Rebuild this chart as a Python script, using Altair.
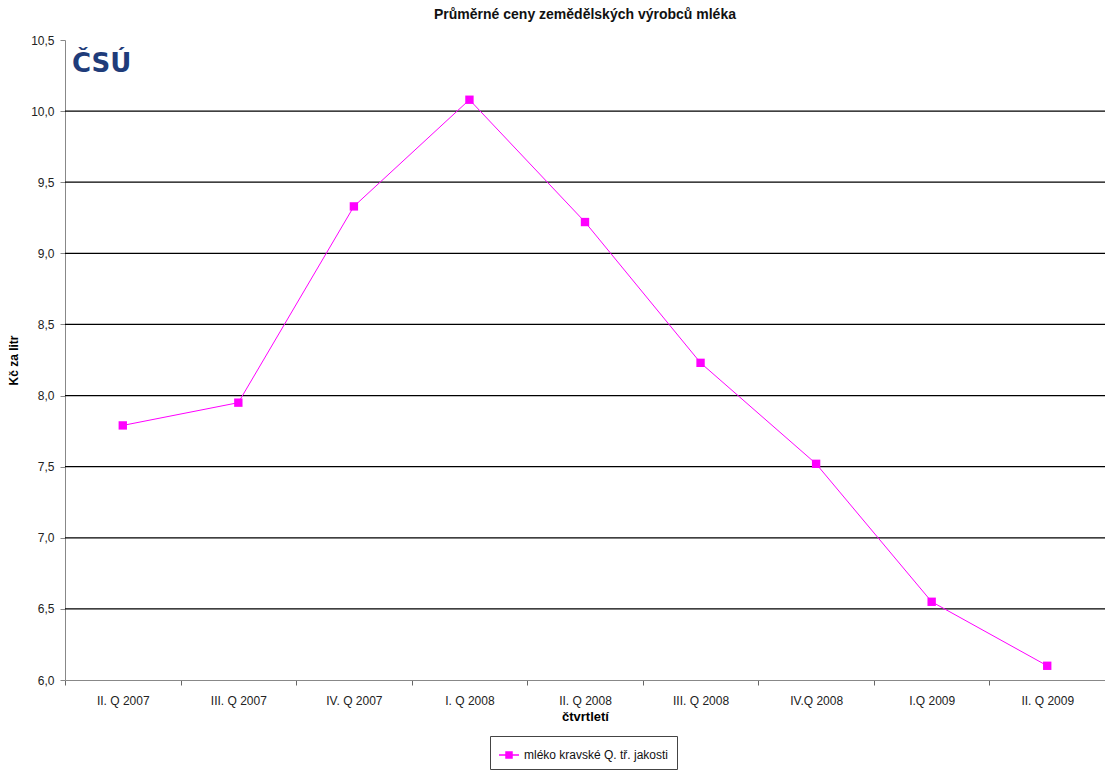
import altair as alt
import pandas as pd

quarters = ["II. Q 2007", "III. Q 2007", "IV. Q 2007", "I. Q 2008", "II. Q 2008",
            "III. Q 2008", "IV.Q 2008", "I.Q 2009", "II. Q 2009"]
prices = [7.79, 7.95, 9.33, 10.08, 9.22, 8.23, 7.52, 6.55, 6.10]
series_name = "mléko kravské Q. tř. jakosti"
y_ticks = [6.0, 6.5, 7.0, 7.5, 8.0, 8.5, 9.0, 9.5, 10.0, 10.5]
grid_values = [6.5, 7.0, 7.5, 8.0, 8.5, 9.0, 9.5, 10.0]

df = pd.DataFrame({"q": quarters, "v": prices, "s": [series_name] * len(quarters)})
grid_df = pd.DataFrame({"v": grid_values})

FONT = "Liberation Sans Narrow, Arial Narrow, Liberation Sans, sans-serif"
yscale = alt.Scale(domain=[6.0, 10.5], nice=False, zero=False)

x = alt.X("q:N", sort=quarters, title="čtvrtletí",
          scale=alt.Scale(paddingInner=0, paddingOuter=0),
          axis=alt.Axis(labelAngle=0, labelFontSize=12, labelColor="#222",
                        labelFont=FONT, titleFont=FONT, titleFontSize=13,
                        titleFontWeight="bold", titlePadding=4, labelPadding=10,
                        tickBand="extent", tickColor="#666", domainColor="#888",
                        tickSize=5, grid=False))
yaxis = alt.Axis(values=y_ticks,
                 labelExpr="replace(format(datum.value, '.1f'), '.', ',')",
                 labelFontSize=12, labelColor="#222", labelFont=FONT,
                 titleFont=FONT, titleFontSize=12, titleFontWeight="bold",
                 titlePadding=10, grid=False,
                 domainColor="#888", tickColor="#888", tickSize=5,
                 labelPadding=6)
y = alt.Y("v:Q", title="Kč za litr", scale=yscale, axis=yaxis)

grid = alt.Chart(grid_df).mark_rule(color="#000", strokeWidth=1.2).encode(y=y)

line = alt.Chart(df).mark_line(color="#FF00FF", strokeWidth=1).encode(
    x=x, y=y,
    color=alt.Color("s:N", scale=alt.Scale(range=["#FF00FF"]),
                    legend=alt.Legend(title=None, orient="none", legendX=425, legendY=696,
                                      symbolType="M-1,0L-0.3,0M0.3,0L1,0M-0.3,-0.3L0.3,-0.3L0.3,0.3L-0.3,0.3Z",
                                      symbolStrokeWidth=1.5, symbolSize=400,
                                      symbolFillColor="#FF00FF", symbolStrokeColor="#FF00FF",
                                      labelFont=FONT, labelFontSize=12,
                                      labelColor="#111", strokeColor="#444",
                                      padding=8, fillColor="white"))
)

pts = alt.Chart(df).mark_square(size=70, color="#FF00FF", opacity=1).encode(x=x, y=y)

logo = alt.Chart(pd.DataFrame({"t": ["ČSÚ"]})).mark_text(
    font="DejaVu Sans", fontSize=26, fontWeight="bold", color="#1F3C7A",
    align="left", baseline="middle"
).encode(x=alt.value(7), y=alt.value(24), text="t:N")

chart = alt.layer(grid, line, pts, logo).properties(
    width=1040, height=640,
    title=alt.TitleParams("Průměrné ceny zemědělských výrobců mléka", font=FONT,
                          fontSize=14, fontWeight="bold", color="#111", offset=12),
    padding={"left": 65, "top": 40, "right": 0, "bottom": 93},
    autosize=alt.AutoSizeParams(type="none")
).configure_view(stroke=None).configure_axis(domainWidth=1)

chart.save("out.html", embed_options={"renderer": "svg", "actions": False})
